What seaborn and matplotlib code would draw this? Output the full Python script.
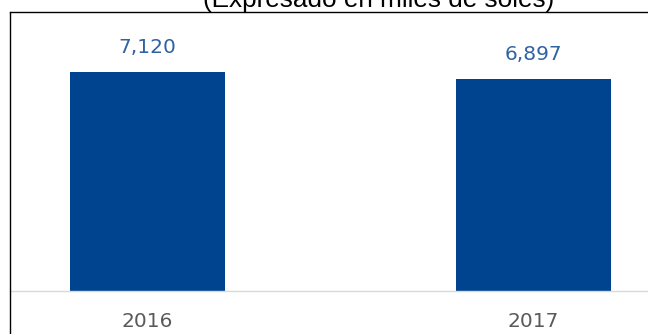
import matplotlib
matplotlib.use("Agg")
import matplotlib.pyplot as plt
from matplotlib.lines import Line2D
import seaborn as sns
import pandas as pd

# Annual totals, in thousands of soles
years = ["2016", "2017"]
values = [7120, 6897]
value_labels = ["7,120", "6,897"]
title = "(Expresado en miles de soles)"

BAR_COLOR = "#00438f"
LABEL_COLOR = "#2f62a3"
TICK_COLOR = "#5a5a5a"

sns.set_theme(style="white")
plt.rcParams["font.family"] = ["DejaVu Sans"]

W, H = 648, 334
fig = plt.figure(figsize=(W / 100, H / 100), dpi=100)
fig.patch.set_facecolor("white")

# plot area: left edge at x=10px, top at y=12px, baseline at y=291px
left_px, top_px, base_px = 10, 12, 291
ax = fig.add_axes([left_px / W, (H - base_px) / H,
                   (W - left_px) / W, (base_px - top_px) / H])

df = pd.DataFrame({"year": years, "value": values})
sns.barplot(data=df, x="year", y="value", color=BAR_COLOR, saturation=1,
            width=0.4, ax=ax, edgecolor="none")

ax.set_xlim(-0.356, 1.297)
ax.set_ylim(0, 9071)

ax.bar_label(ax.containers[0], labels=value_labels, padding=11,
             color=LABEL_COLOR, fontsize=14.5)

ax.set_xlabel("")
ax.set_ylabel("")
ax.set_yticks([])
ax.tick_params(axis="x", length=0, pad=15, labelsize=14.5, labelcolor=TICK_COLOR)

for side in ("right", "left"):
    ax.spines[side].set_visible(False)
ax.spines["top"].set_color("black")
ax.spines["top"].set_linewidth(1.0)
ax.spines["bottom"].set_color("#d9d9d9")
ax.spines["bottom"].set_linewidth(1.0)

# outer frame: left edge runs to the bottom of the figure
fig.add_artist(Line2D([left_px / W, left_px / W], [0, (H - top_px) / H],
                      color="black", linewidth=1.0, transform=fig.transFigure))

fig.text(379 / W, (H - 7) / H, title, ha="center", va="baseline",
         fontsize=18.8, family=["Liberation Sans"], color="black")

fig.savefig("out.png", dpi=100)
